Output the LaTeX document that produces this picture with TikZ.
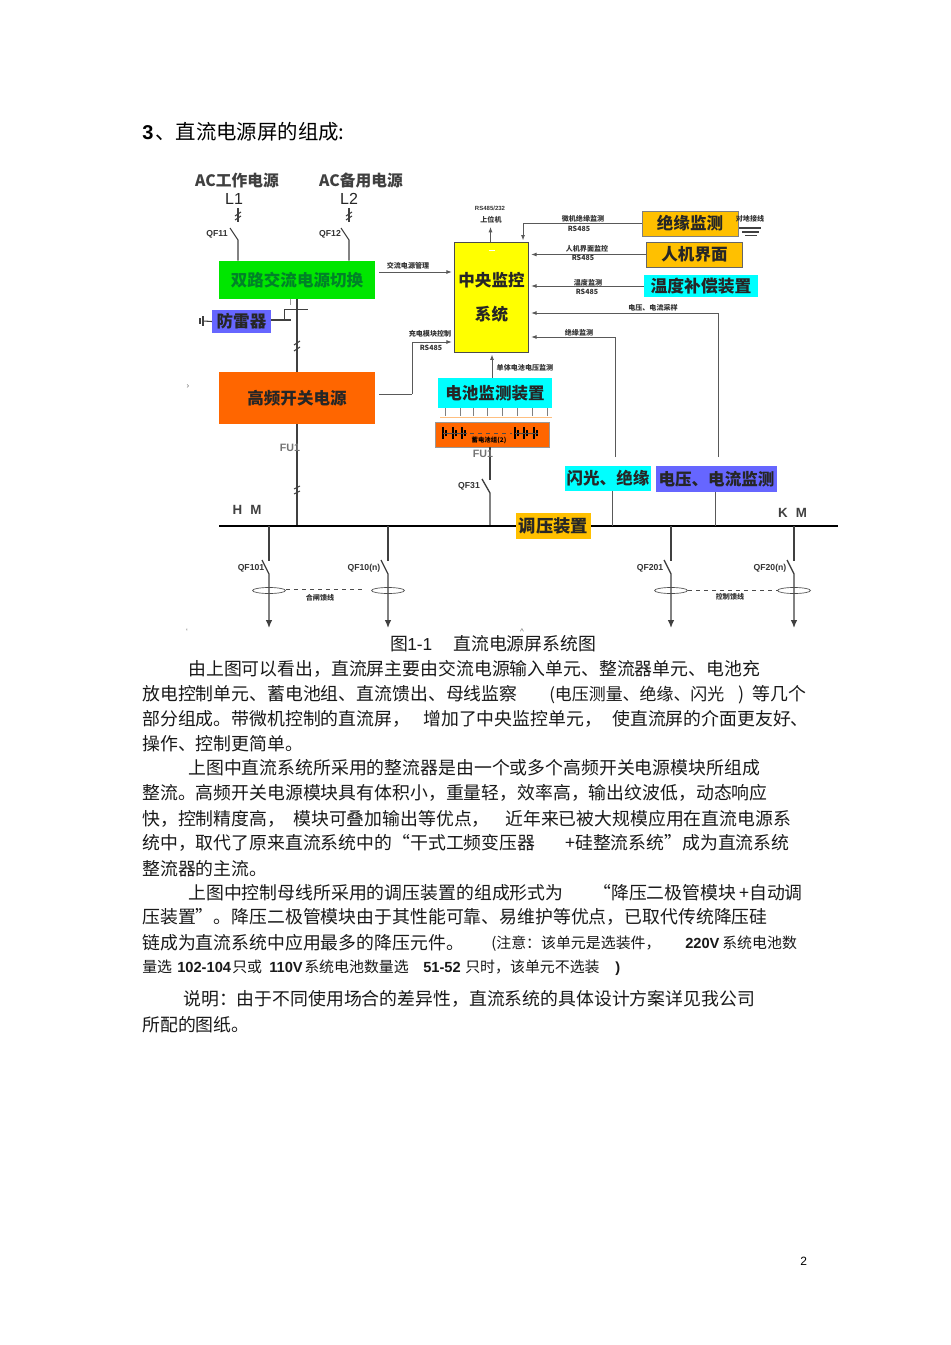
\documentclass[tikz,border=0pt]{standalone}
\usepackage{fontspec}
\usetikzlibrary{arrows.meta}
\setmainfont{Liberation Sans}
\newfontfamily\cjk{Noto Sans CJK SC}
\definecolor{cGreen}{RGB}{0,230,0}
\definecolor{cGreenT}{RGB}{0,130,40}
\definecolor{cOrange}{RGB}{255,102,0}
\definecolor{cGold}{RGB}{255,192,0}
\definecolor{cCyan}{RGB}{0,255,255}
\definecolor{cBlue}{RGB}{102,102,255}
\definecolor{cYellow}{RGB}{255,255,0}
\tikzset{
 wire/.style={draw=black!75,line width=0.8pt},
 thin wire/.style={draw=black!65,line width=0.6pt},
 bus/.style={draw=black,line width=2.1pt},
 lab/.style={inner sep=0pt,font=\cjk\bfseries\fontsize{5.3}{5.3}\selectfont,text=black!80},
 sw/.style={inner sep=0pt,font=\fontsize{6.5}{6.5}\selectfont\bfseries,text=black!80},
 fu/.style={inner sep=0pt,font=\fontsize{8}{8}\selectfont\bfseries,text=black!55},
 box/.style={inner sep=0pt,anchor=center,text=black!85,font=\cjk\bfseries\fontsize{12.4}{12.4}\selectfont},
 body/.style={inner sep=0pt,anchor=base west,font=\cjk\fontsize{13.4}{13.4}\selectfont,text=black!90},
 small/.style={body,font=\cjk\fontsize{11.2}{11.2}\selectfont},
 smallb/.style={body,font=\bfseries\fontsize{11}{11}\selectfont},
 arr/.style={-{Latex[length=4pt,width=3pt]},shorten >=1.5pt},
 stray/.style={inner sep=0pt,font=\fontsize{6}{6}\selectfont,text=black!60},
}
\begin{document}
\begin{tikzpicture}[x=0.75pt,y=-0.75pt]
\useasboundingbox (0,0) rectangle (950,1345);
\fill[white] (0,0) rectangle (950,1345);
% heading
\node[inner sep=0pt,anchor=base west,font=\bfseries\fontsize{15}{15}\selectfont] (h3) at (142,139) {3};
\node[inner sep=0pt,anchor=base west,font=\cjk\fontsize{15.3}{15.3}\selectfont] (h) at (155,139) {、直流电源屏的组成:};
% sources
\node[box,font=\cjk\bfseries\fontsize{11.8}{11.8}\selectfont,text=black!75] (ac1) at (237,181) {AC工作电源};
\node[box,font=\cjk\bfseries\fontsize{11.8}{11.8}\selectfont,text=black!75] (ac2) at (361,181) {AC备用电源};
\node[box,font=\fontsize{12}{12}\selectfont] (l1) at (234,199) {L1};
\node[box,font=\fontsize{12}{12}\selectfont] (l2) at (349,199) {L2};
% main boxes
\node[box,fill=cGreen,text=cGreenT,minimum width=117pt,minimum height=28.5pt] (dual) at (297,280) {双路交流电源切换};
\node[box,fill=cOrange,minimum width=117pt,minimum height=39pt] (hf) at (297,398) {高频开关电源};
\node[box,fill=cBlue,minimum width=44pt,minimum height=17pt] (sur) at (241.5,321.5) {防雷器};
\node[box,fill=cYellow,draw=black!70,line width=0.7pt,minimum width=56pt,minimum height=82pt,align=center,font=\cjk\bfseries\fontsize{12.4}{25.5}\selectfont] (cpu) at (491.5,297.5) {\raisebox{1.5pt}{中央监控}\\\raisebox{1.5pt}{系统}};
\node[box,fill=cGold,draw=black!50,line width=0.4pt,minimum width=72pt,minimum height=19pt] (ins) at (690,223.5) {绝缘监测};
\node[box,fill=cGold,draw=black!60,line width=0.5pt,minimum width=72pt,minimum height=18.5pt] (hmi) at (694.5,254.5) {人机界面};
\node[box,fill=cCyan,minimum width=85.5pt,minimum height=16.5pt,font=\cjk\bfseries\fontsize{12.6}{12.6}\selectfont] (temp) at (701,286) {温度补偿装置};
\node[box,fill=cCyan,minimum width=85.5pt,minimum height=22.5pt] (bm) at (495,393) {电池监测装置};
\node[box,fill=cOrange,draw=black!40,line width=0.4pt,minimum width=85.5pt,minimum height=18.75pt] (bat) at (492,434.5) {};
\node[box,fill=cCyan,minimum width=64.5pt,minimum height=19pt] (fl) at (608,478.5) {闪光、绝缘};
\node[box,fill=cBlue,minimum width=90.5pt,minimum height=19.5pt] (vc) at (716.5,479) {电压、电流监测};
\node[box,fill=cGold,minimum width=56pt,minimum height=19.5pt,font=\cjk\bfseries\fontsize{13}{13}\selectfont] (reg) at (553.5,526) {调压装置};
% cpu white mark
\draw[white,line width=0.6pt] (489,250)--(495,250);
% Switch feed L1, L2
\draw[wire] (238,208) -- (238,222);
\draw[wire] (230,228) -- (238,240) -- (dual.north -| 238,0);
\draw[wire] (235,216)--(241,212) (235,220)--(241,216);
\node[sw] (q11) at (217,234) {QF11};
\draw[wire] (349,208) -- (349,222);
\draw[wire] (341,228) -- (349,240) -- (dual.north -| 349,0);
\draw[wire] (346,216)--(352,212) (346,220)--(352,216);
\node[sw] (q12) at (330,234) {QF12};
% dual to hf
\draw[wire,line width=1pt] (dual.south -| 297,0) -- (hf.north -| 297,0);
\draw[wire,line width=0.6pt] (285,309)--(308,309);
\draw[draw=black!40,line width=0.5pt] (290,299)--(290,305);
\draw[wire,line width=0.6pt] (284,320)--(284,309);
\draw[wire,line width=1.2pt] (sur.east |- 0,320) -- (291,320);
\draw[wire] (294,345)--(300,341) (294,351)--(300,347);
\draw[wire] (sur.west) -- (203,321);
\draw[wire,line width=1.2pt] (203,316)--(203,326);
\draw[wire] (200,318)--(200,324);
% to cpu
\draw[thin wire,arr] (379,272) -- (cpu.west |- 0,272);
\node[lab] (l_ac) at (408,266) {交流电源管理};
\draw[thin wire] (379,394) -- (412,394);
\draw[thin wire,arr] (412,394) -- (412,342) -- (cpu.west |- 0,342);
\node[lab] (l_ch) at (430,334) {充电模块控制};
\node[lab] (l_rs) at (431,348) {RS485};
% up
\draw[thin wire,arr] (cpu.north -| 490.5,0) -- (490.5,225);
\node[lab,font=\bfseries\fontsize{4.5}{4.5}\selectfont] (l_up1) at (490,208) {RS485/232};
\node[lab] (l_up2) at (491,220) {上位机};
% right side
\draw[thin wire,arr] (ins.west) -- (523,223.5) -- (cpu.north -| 523,0);
\node[lab] (l1a) at (583,219) {微机绝缘监测};
\node[lab] (l1b) at (579,229) {RS485};
\draw[thin wire,arr] (hmi.west) -- (cpu.east |- hmi.west);
\node[lab] (l2a) at (587,249) {人机界面监控};
\node[lab] (l2b) at (583,258) {RS485};
\draw[thin wire,arr] (temp.west) -- (cpu.east |- temp.west);
\node[lab] (l3a) at (588,283) {温度监测};
\node[lab] (l3b) at (587,292) {RS485};
\draw[thin wire,arr] (718,457) -- (718,313) -- (cpu.east |- 0,313);
\node[lab] (l4) at (653,308) {电压、电流采样};
\draw[thin wire,arr] (615,457) -- (615,337) -- (cpu.east |- 0,337);
\node[lab] (l5) at (579,333) {绝缘监测};
\draw[thin wire,arr] (bm.north -| 492,0) -- (cpu.south -| 492,0);
\node[lab] (l6) at (525,368) {单体电池电压监测};
% insulation small
\node[lab] (l7) at (750,219) {对地接线};
\draw[wire] (739,228)--(761,228) (742,232)--(759,232) (745,235.5)--(757,235.5);
% bm ticks
\foreach \x in {445,460,473,487,502,517,532,547}
  \draw[thin wire,draw=black!50] (\x,408)--(\x,416);
\draw[draw=orange!50,line width=0.7pt] (440,417)--(552,417);
% batteries
\foreach \x/\h in {443/6,446/3,453/6,456/3,462/6,465/3,515/6,518/3,524/6,527/3,534/6,537/3}
  \draw[black,line width=0.8pt] (\x,433-\h)--(\x,433+\h);
\draw[black!70,line width=0.5pt] (443,433)--(467,433);
\draw[black!70,line width=0.5pt,dashed] (470,433)--(512,433);
\draw[black!70,line width=0.5pt] (515,433)--(538,433);
\node[lab,text=black,font=\cjk\bfseries\fontsize{4.8}{4.8}\selectfont] (bl) at (489,440) {蓄电池组(2)};
% FU
\draw[wire,line width=1pt] (hf.south -| 297,0) -- (297,526);
\draw[wire] (294,489)--(300,486) (294,494)--(300,491);
\node[fu] (fu1) at (290,448) {FU1};
\draw[wire,line width=1pt] (bat.south -| 490,0) -- (490,480);
\draw[wire,line width=1pt] (482,479)--(490,493)--(490,526);
\node[fu] (fu2) at (483,454) {FU1};
\node[sw] (q31) at (469,486) {QF31};
% bus
\draw[bus] (219,526) -- (reg.west);
\draw[bus] (reg.east) -- (838,526);
\node[box,font=\fontsize{10}{10}\selectfont\bfseries,text=black!75] (hm) at (247,510) {H\hspace{6pt}M};
\node[box,font=\fontsize{10}{10}\selectfont\bfseries,text=black!75] (km) at (792.5,513) {K\hspace{6pt}M};
% feeder links
\draw[thin wire] (fl.south -| 612,0) -- (612,526);
\draw[thin wire] (vc.south -| 715,0) -- (715,526);
% feeders
\foreach \x/\nm/\lx in {269/QF101/251, 388/QF10(n)/364, 671/QF201/650, 794/QF20(n)/770}{
  \draw[wire,line width=1pt] (\x,526) -- (\x,561);
  \draw[wire,line width=1pt,-{Latex[length=6pt,width=5pt]}] (\x-7,560) -- (\x,574) -- (\x,628);
  \draw[black!70,line width=0.5pt] (\x,590.5) ellipse [x radius=16.5,y radius=3];
  \node[sw] at (\lx,568) {\nm};
}
\draw[dashed,black!70,line width=0.5pt] (286,589.5) -- (362,589.5);
\draw[dashed,black!70,line width=0.5pt] (688,590) -- (778,590);
\node[lab] (g1) at (320,598) {合闸馈线};
\node[lab] (g2) at (730,597) {控制馈线};
% stray marks
\node[stray] (s1) at (188,387) {›};
\node[stray] (s2) at (187,632) {`};
\node[stray] (s3) at (522,632) {\^{}};
% caption
\node[body] (cap1) at (390,650) {图};
\node[body,font=\fontsize{13}{13}\selectfont] (cap2) at (407,650) {1-1};
\node[body] (cap3) at (453,650) {直流电源屏系统图};
% body text
\node[body] at (188,675) {由上图可以看出，直流屏主要由交流电源输入单元、整流器单元、电池充};
\node[body] at (142,700) {放电控制单元、蓄电池组、直流馈出、母线监察};
\node[body,font=\cjk\fontsize{12.7}{12.7}\selectfont] at (549,700) {(电压测量、绝缘、闪光};
\node[body] at (738,700) {)};
\node[body] at (752,700) {等几个};
\node[body] at (142,725) {部分组成。带微机控制的直流屏，};
\node[body] at (423,725) {增加了中央监控单元，};
\node[body] at (612,725) {使直流屏的介面更友好、};
\node[body] at (142,750) {操作、控制更简单。};
\node[body] at (188,774) {上图中直流系统所采用的整流器是由一个或多个高频开关电源模块所组成};
\node[body] at (142,799) {整流。高频开关电源模块具有体积小，重量轻，效率高，输出纹波低，动态响应};
\node[body] at (142,825) {快，控制精度高，};
\node[body] at (293,825) {模块可叠加输出等优点，};
\node[body] at (505,825) {近年来已被大规模应用在直流电源系};
\node[body] at (142,849) {统中，取代了原来直流系统中的“干式工频变压器};
\node[body] at (565,849) {+硅整流系统”成为直流系统};
\node[body] at (142,875) {整流器的主流。};
\node[body] at (188,899) {上图中控制母线所采用的调压装置的组成形式为};
\node[body] at (593,899) {“降压二极管模块};
\node[body] at (739,899) {+自动调};
\node[body] at (142,923) {压装置”。降压二极管模块由于其性能可靠、易维护等优点，已取代传统降压硅};
\node[body] at (142,949) {链成为直流系统中应用最多的降压元件。};
\node[small] at (491,948) {(注意：该单元是选装件，};
\node[smallb] at (685,948) {220V};
\node[small] at (722,948) {系统电池数};
\node[small] at (142,972) {量选};
\node[smallb] at (177,972) {102-104};
\node[small] at (232,972) {只或};
\node[smallb] at (269,972) {110V};
\node[small] at (304,972) {系统电池数量选};
\node[smallb] at (423,972) {51-52};
\node[small] at (465,972) {只时，该单元不选装};
\node[smallb] at (615,972) {)};
\node[body] at (183,1005) {说明：由于不同使用场合的差异性，直流系统的具体设计方案详见我公司};
\node[body] at (142,1031) {所配的图纸。};
\node[inner sep=0pt,anchor=base west,font=\fontsize{9}{9}\selectfont] (pg) at (800,1265) {2};
\end{tikzpicture}
\end{document}
